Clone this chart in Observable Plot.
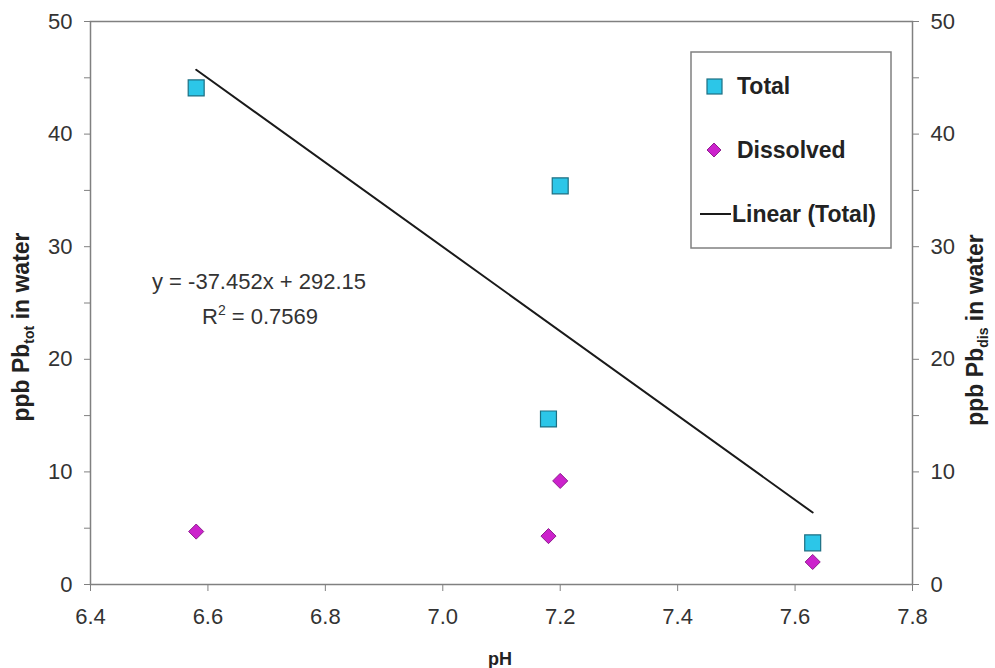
<!DOCTYPE html>
<html><head><meta charset="utf-8">
<script src="https://cdn.jsdelivr.net/npm/d3@7"></script>
<script src="https://cdn.jsdelivr.net/npm/@observablehq/plot@0.6"></script>
<style>body{margin:0;background:#fff;overflow:hidden}</style>
</head><body><div id="chart"></div>
<script>
// ---- data ----
const pH = [6.58, 7.20, 7.18, 7.63];
const totalPb = [44.1, 35.4, 14.7, 3.7];
const dissolvedPb = [4.7, 9.2, 4.3, 2.0];
const trendSlope = -37.452;
const trendIntercept = 292.15;
const trendR2 = "0.7569";
const xTicks = [6.4, 6.6, 6.8, 7.0, 7.2, 7.4, 7.6, 7.8];
const yTicks = [0, 5, 10, 15, 20, 25, 30, 35, 40, 45, 50];
const seriesNames = ["Total", "Dissolved", "Linear (Total)"];

const totalData = pH.map((x, i) => ({x, y: totalPb[i]}));
const dissData = pH.map((x, i) => ({x, y: dissolvedPb[i]}));
const xMin = d3.min(pH), xMax = d3.max(pH);
const trendData = [xMin, xMax].map(x => ({x, y: trendSlope * x + trendIntercept}));

const cyan = "#2cc6e8", cyanStroke = "#1d6f82";
const magenta = "#cc22cc", magentaStroke = "#8e1f8e";
const font = "'Liberation Sans', Arial, sans-serif";
const yFmt = d => d % 10 === 0 ? String(d) : "";

const chart = Plot.plot({
  width: 995, height: 668,
  marginLeft: 90, marginRight: 83, marginTop: 21, marginBottom: 84,
  x: {domain: [6.4, 7.8]},
  y: {domain: [0, 50]},
  style: {fontFamily: font, fontSize: "22px", color: "#333", background: "#fff"},
  marks: [
    Plot.frame({stroke: "#808080", strokeWidth: 1.5}),
    Plot.axisX({ticks: xTicks, tickFormat: d => d.toFixed(1), tickSize: 7, tickPadding: 17, stroke: "#808080", label: null}),
    Plot.axisY({anchor: "left", ticks: yTicks, tickFormat: yFmt, tickSize: 6, tickPadding: 12, stroke: "#808080", label: null}),
    Plot.axisY({anchor: "right", ticks: yTicks, tickFormat: yFmt, tickSize: 6, tickPadding: 12, stroke: "#808080", label: null}),
    Plot.line(trendData, {x: "x", y: "y", stroke: "#1a1a1a", strokeWidth: 2}),
    Plot.dot(totalData, {x: "x", y: "y", symbol: "square", r: 9, fill: cyan, stroke: cyanStroke, strokeWidth: 1.2}),
    Plot.dot(dissData, {x: "x", y: "y", symbol: "diamond2", r: 6.8, fill: magenta, stroke: magentaStroke, strokeWidth: 1})
  ]
});
document.getElementById("chart").appendChild(chart);

const svg = d3.select(chart);
// equation annotation
const eq = svg.append("g").attr("font-family", font).attr("font-size", 22).attr("fill", "#333").attr("text-anchor", "start");
eq.append("text").attr("x", 152).attr("y", 289).text(`y = ${trendSlope}x + ${trendIntercept}`);
const r2t = eq.append("text").attr("x", 202).attr("y", 324);
r2t.append("tspan").text("R");
r2t.append("tspan").attr("font-size", 14).attr("dy", -9).text("2");
r2t.append("tspan").attr("dy", 9).text(` = ${trendR2}`);

// axis titles
function axisTitle(x, y, sub) {
  const t = svg.append("text").attr("transform", `translate(${x},${y}) rotate(-90)`)
    .attr("text-anchor", "middle").attr("font-family", font).attr("font-weight", "bold")
    .attr("font-size", 23).attr("fill", "#222");
  t.append("tspan").text("ppb Pb");
  t.append("tspan").attr("font-size", 14).attr("dy", 5).text(sub);
  t.append("tspan").attr("dy", -5).text(" in water");
}
axisTitle(29, 327, "tot");
axisTitle(983, 330, "dis");
svg.append("text").attr("x", 500).attr("y", 665).attr("text-anchor", "middle")
  .attr("font-family", font).attr("font-weight", "bold").attr("font-size", 18).attr("fill", "#222").text("pH");

// legend
const lg = svg.append("g").attr("font-family", font).attr("font-weight", "bold").attr("font-size", 23).attr("fill", "#222").attr("text-anchor", "start");
lg.append("rect").attr("x", 691).attr("y", 52).attr("width", 200).attr("height", 196)
  .attr("fill", "#fff").attr("stroke", "#808080").attr("stroke-width", 1.5);
lg.append("rect").attr("x", 707).attr("y", 79).attr("width", 15).attr("height", 15)
  .attr("fill", cyan).attr("stroke", cyanStroke).attr("stroke-width", 1.2);
lg.append("text").attr("x", 737).attr("y", 94).text(seriesNames[0]);
lg.append("path").attr("d", "M714,143L721,150L714,157L707,150Z").attr("fill", magenta).attr("stroke", magentaStroke);
lg.append("text").attr("x", 737).attr("y", 158).text(seriesNames[1]);
lg.append("line").attr("x1", 700).attr("x2", 731).attr("y1", 214).attr("y2", 214).attr("stroke", "#1a1a1a").attr("stroke-width", 2);
lg.append("text").attr("x", 732).attr("y", 222).text(seriesNames[2]);
</script>
</body></html>
